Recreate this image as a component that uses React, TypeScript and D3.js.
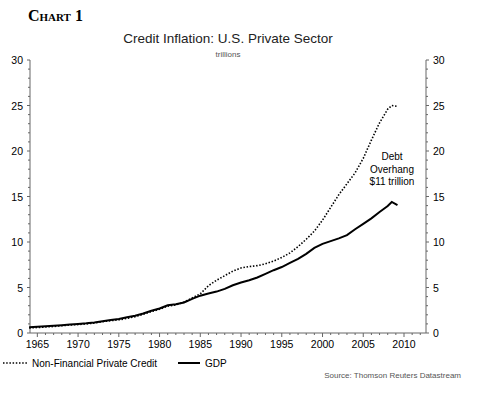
import { useEffect, useRef } from "react"
import * as d3 from "d3"

// annual observations (trillions of US$), last points are intra-year
const years = [
  1964, 1965, 1966, 1967, 1968, 1969, 1970, 1971, 1972, 1973, 1974, 1975, 1976, 1977, 1978, 1979,
  1980, 1981, 1982, 1983, 1984, 1985, 1986, 1987, 1988, 1989, 1990, 1991, 1992, 1993, 1994, 1995,
  1996, 1997, 1998, 1999, 2000, 2001, 2002, 2003, 2004, 2005, 2006, 2007, 2008, 2008.5, 2009.2,
]

const creditValues = [
  0.55, 0.6, 0.66, 0.72, 0.8, 0.88, 0.93, 1.0, 1.1, 1.24, 1.36, 1.45, 1.6, 1.8, 2.05, 2.35,
  2.6, 2.95, 3.1, 3.4, 3.85, 4.3, 5.2, 5.8, 6.3, 6.8, 7.15, 7.3, 7.4, 7.6, 7.9, 8.3,
  8.8, 9.5, 10.3, 11.2, 12.4, 13.8, 15.2, 16.4, 17.6, 19.2, 21.2, 23.1, 24.6, 25.0, 24.9,
]

const gdpValues = [
  0.62, 0.68, 0.74, 0.8, 0.86, 0.93, 1.0, 1.06, 1.15, 1.3, 1.42, 1.55, 1.72, 1.9, 2.15, 2.45,
  2.7, 3.05, 3.15, 3.35, 3.75, 4.1, 4.35, 4.55, 4.85, 5.25, 5.55, 5.8, 6.1, 6.5, 6.9, 7.25,
  7.7, 8.15, 8.7, 9.35, 9.8, 10.1, 10.4, 10.75, 11.4, 12.0, 12.6, 13.3, 13.95, 14.4, 14.05,
]

const xTickLabels = [1965, 1970, 1975, 1980, 1985, 1990, 1995, 2000, 2005, 2010]
const yTickLabels = [0, 5, 10, 15, 20, 25, 30]
const annotation = ["Debt", "Overhang", "$11 trillion"]

const W = 479
const H = 399
const font = "Liberation Sans, Arial, sans-serif"

export default function App() {
  const svgRef = useRef<SVGSVGElement>(null)

  useEffect(() => {
    const svg = d3.select(svgRef.current)
    svg.selectAll("*").remove()

    const left = 30
    const right = 426
    const top = 60
    const bottom = 333

    const x = d3.scaleLinear().domain([1964.1, 2012.7]).range([left, right])
    const y = d3.scaleLinear().domain([0, 30]).range([bottom, top])

    const axisColor = "#666"

    // chart heading
    svg.append("text")
      .attr("x", 28).attr("y", 21)
      .attr("font-family", "Liberation Serif, Times New Roman, serif")
      .attr("font-weight", "bold").attr("font-size", 16)
      .attr("font-variant", "small-caps")
      .text("Chart 1")

    svg.append("text")
      .attr("x", 228).attr("y", 43)
      .attr("text-anchor", "middle")
      .attr("font-family", font).attr("font-size", 13.5)
      .attr("fill", "#222")
      .text("Credit Inflation: U.S. Private Sector")

    svg.append("text")
      .attr("x", 228).attr("y", 57)
      .attr("text-anchor", "middle")
      .attr("font-family", font).attr("font-size", 8)
      .attr("fill", "#555")
      .text("trillions")

    // axes
    const g = svg.append("g")
    g.append("line").attr("x1", left).attr("x2", left).attr("y1", top).attr("y2", bottom).attr("stroke", axisColor)
    g.append("line").attr("x1", right).attr("x2", right).attr("y1", top).attr("y2", bottom).attr("stroke", axisColor)
    g.append("line").attr("x1", left).attr("x2", right).attr("y1", bottom).attr("y2", bottom).attr("stroke", axisColor)

    d3.range(0, 31).forEach((v) => {
      const len = v % 5 === 0 ? 3 : 2
      g.append("line").attr("x1", left - len).attr("x2", left).attr("y1", y(v)).attr("y2", y(v)).attr("stroke", axisColor)
      g.append("line").attr("x1", right).attr("x2", right + len).attr("y1", y(v)).attr("y2", y(v)).attr("stroke", axisColor)
    })

    yTickLabels.forEach((v) => {
      g.append("text").attr("x", left - 7).attr("y", y(v) + 4)
        .attr("text-anchor", "end").attr("font-family", font).attr("font-size", 10.5)
        .text(v)
      g.append("text").attr("x", right + 7).attr("y", y(v) + 4)
        .attr("font-family", font).attr("font-size", 10.5)
        .text(v)
    })

    d3.range(1965, 2013).forEach((yr) => {
      const len = yr % 5 === 0 ? 4 : 2
      g.append("line").attr("x1", x(yr)).attr("x2", x(yr)).attr("y1", bottom).attr("y2", bottom + len).attr("stroke", axisColor)
    })

    xTickLabels.forEach((yr) => {
      g.append("text").attr("x", x(yr)).attr("y", 348)
        .attr("text-anchor", "middle").attr("font-family", font).attr("font-size", 10.5)
        .text(yr)
    })

    // series
    const credit = years.map((yr, i) => ({ yr, v: creditValues[i] }))
    const gdp = years.map((yr, i) => ({ yr, v: gdpValues[i] }))

    const line = d3.line<{ yr: number; v: number }>()
      .x((d) => x(d.yr))
      .y((d) => y(d.v))

    svg.append("path").datum(gdp)
      .attr("fill", "none").attr("stroke", "#000").attr("stroke-width", 2)
      .attr("d", line)

    svg.append("path").datum(credit)
      .attr("fill", "none").attr("stroke", "#000").attr("stroke-width", 1.6)
      .attr("stroke-dasharray", "1.5,1.7")
      .attr("d", line)

    // annotation
    annotation.forEach((t, i) => {
      svg.append("text").attr("x", 392).attr("y", 160 + i * 12.5)
        .attr("text-anchor", "middle").attr("font-family", font).attr("font-size", 10)
        .text(t)
    })

    // legend
    const leg = svg.append("g")
    leg.append("line").attr("x1", 3).attr("x2", 28).attr("y1", 363).attr("y2", 363)
      .attr("stroke", "#000").attr("stroke-width", 1.6).attr("stroke-dasharray", "1.5,1.7")
    leg.append("text").attr("x", 32).attr("y", 367)
      .attr("font-family", font).attr("font-size", 10).text("Non-Financial Private Credit")
    leg.append("line").attr("x1", 178).attr("x2", 200).attr("y1", 363).attr("y2", 363)
      .attr("stroke", "#000").attr("stroke-width", 2)
    leg.append("text").attr("x", 205).attr("y", 367)
      .attr("font-family", font).attr("font-size", 10).text("GDP")

    svg.append("text").attr("x", 461).attr("y", 378)
      .attr("text-anchor", "end").attr("font-family", font).attr("font-size", 8)
      .attr("fill", "#555")
      .text("Source: Thomson Reuters Datastream")
  }, [])

  return (
    <svg
      ref={svgRef}
      width={W}
      height={H}
      style={{ position: "absolute", left: 0, top: 0, background: "#fff" }}
    />
  )
}
